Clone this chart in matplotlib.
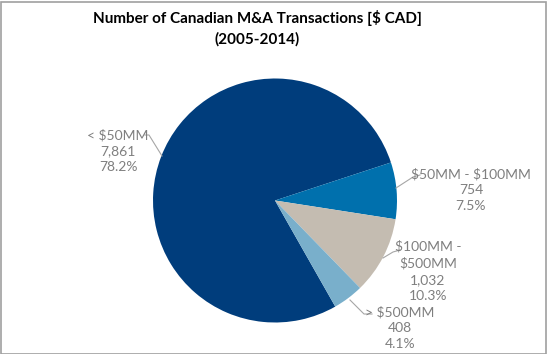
import matplotlib
matplotlib.use("Agg")
import matplotlib.pyplot as plt
from matplotlib.patches import Rectangle
import numpy as np

categories = ["< $50MM", "$50MM - $100MM", "$100MM -\n$500MM", "> $500MM"]
counts = [7861, 754, 1032, 408]
count_labels = ["7,861", "754", "1,032", "408"]
pct_labels = ["78.2%", "7.5%", "10.3%", "4.1%"]
colors = ["#003D7C", "#0070AD", "#C4BCB1", "#79AFCB"]
title = "Number of Canadian M&A Transactions [$ CAD]\n(2005-2014)"

W, H = 547, 354
fig = plt.figure(figsize=(W / 100, H / 100), dpi=100)
plt.rcParams['font.family'] = ['Lato', 'DejaVu Sans']

cx, cy, R = 275.0, 200.5, 122.0
half = 1.1 * R
ax = fig.add_axes([(cx - half) / W, (H - cy - half) / H, 2 * half / W, 2 * half / H])

wedges, _ = ax.pie(counts, colors=colors, startangle=-60.4, counterclock=False,
                   radius=1.0, center=(0, 0), frame=False)
ax.set_xlim(-1.1, 1.1)
ax.set_ylim(-1.1, 1.1)
ax.set_aspect('equal')
ax.axis('off')

def px(x, y):
    return ((x - cx) / R, (cy - y) / R)

label_pos = [(118, 151), (471, 190), (428, 271), (400, 328)]
leaders = [
    [(145, 135), (149, 135), (162, 156)],
    [(420, 175), (413, 177), (396, 188)],
    [(400, 250), (393, 252), (383, 258)],
    [(372, 314), (364, 314), (350, 300)],
]
text_color = "#7F7F7F"
for i in range(len(counts)):
    txt = f"{categories[i]}\n{count_labels[i]}\n{pct_labels[i]}"
    x, y = px(*label_pos[i])
    ax.text(x, y, txt, ha='center', va='center', fontsize=10, color=text_color,
            linespacing=1.42, clip_on=False, parse_math=False)
    pts = np.array([px(a, b) for a, b in leaders[i]])
    ax.plot(pts[:, 0], pts[:, 1], color="#A6A6A6", lw=0.8, clip_on=False)

fig.text(257 / W, 1 - 28 / H, title, ha='center', va='center', fontsize=11,
         fontweight='bold', color='black', linespacing=1.5, parse_math=False)

fig.patches.append(Rectangle((0.5 / W, 0.5 / H), (W - 2) / W, (H - 2) / H,
                             transform=fig.transFigure, fill=False,
                             edgecolor="#A0A0A0", lw=1.2))

fig.savefig("out.png", dpi=100)
